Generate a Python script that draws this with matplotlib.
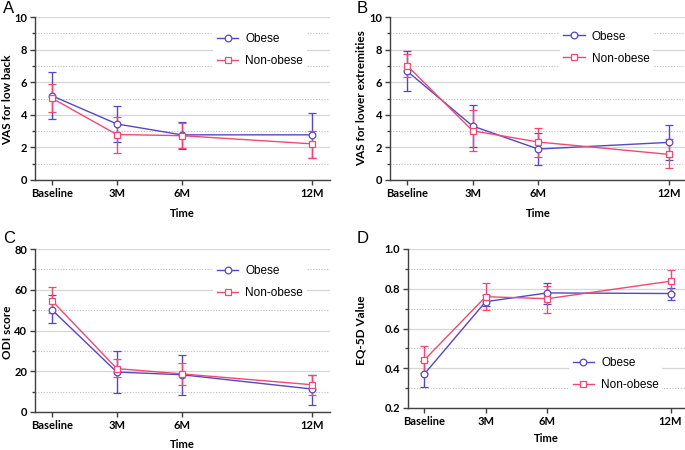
import matplotlib
matplotlib.use("Agg")
import matplotlib.pyplot as plt
from matplotlib.ticker import MultipleLocator, FormatStrFormatter
from matplotlib.lines import Line2D

# ---- data ----
time_labels = ["Baseline", "3M", "6M", "12M"]
months = [0, 3, 6, 12]

# Panel A: VAS for low back
a_obese = [5.17, 3.44, 2.77, 2.77]
a_obese_lo = [3.73, 2.35, 1.90, 1.37]
a_obese_hi = [6.60, 4.55, 3.58, 4.13]
a_non = [5.02, 2.79, 2.72, 2.22]
a_non_lo = [4.18, 1.68, 1.95, 1.38]
a_non_hi = [5.88, 3.88, 3.48, 3.03]

# Panel B: VAS for lower extremities
b_obese = [6.68, 3.31, 1.90, 2.31]
b_obese_lo = [5.47, 2.04, 0.92, 1.22]
b_obese_hi = [7.90, 4.61, 2.86, 3.35]
b_non = [7.02, 3.02, 2.33, 1.57]
b_non_lo = [6.33, 1.80, 1.43, 0.71]
b_non_hi = [7.71, 4.29, 3.20, 2.49]

# Panel C: ODI score
c_obese = [50.2, 19.6, 18.3, 11.3]
c_obese_lo = [43.7, 9.3, 8.2, 3.6]
c_obese_hi = [57.3, 29.8, 28.1, 18.3]
c_non = [54.7, 21.3, 18.7, 13.4]
c_non_lo = [48.6, 17.2, 13.3, 8.2]
c_non_hi = [61.4, 26.2, 24.1, 18.3]

# Panel D: EQ-5D value
d_obese = [0.369, 0.735, 0.779, 0.776]
d_obese_lo = [0.304, 0.715, 0.725, 0.745]
d_obese_hi = [0.435, 0.767, 0.829, 0.804]
d_non = [0.440, 0.760, 0.750, 0.838]
d_non_lo = [0.375, 0.692, 0.678, 0.779]
d_non_hi = [0.510, 0.829, 0.816, 0.894]

OBESE_C = "#5548c0"
NON_C = "#ee4a74"
tick_font = "Lato"

fig = plt.figure(figsize=(6.85, 4.5), dpi=100)
W, H = 685, 450

def add_ax(l, t, r, b):
    return fig.add_axes([l / W, 1 - b / H, (r - l) / W, (b - t) / H])

def panel(ax, ylabel, ylim, major, minor, fmt, ob, ob_lo, ob_hi, no, no_lo, no_hi,
          leg_anchor, ylab_xy, xlab_xy):
    ax.set_xlim(-0.78, 12.85)
    ax.set_ylim(*ylim)
    ax.yaxis.set_major_locator(MultipleLocator(major))
    ax.yaxis.set_minor_locator(MultipleLocator(minor))
    ax.grid(True, which="major", axis="y", color="#d6d6d6", lw=0.9, zorder=0)
    ax.grid(True, which="minor", axis="y", color="#bdbdbd", lw=0.8, ls=(0, (1, 1.5)), zorder=0)
    ax.set_axisbelow(True)
    for s in ["top", "right"]:
        ax.spines[s].set_visible(False)
    for s in ["left", "bottom"]:
        ax.spines[s].set_color("#404040")
        ax.spines[s].set_linewidth(1.0)
    series = [
        (ob, ob_lo, ob_hi, OBESE_C, "o", "Obese"),
        (no, no_lo, no_hi, NON_C, "s", "Non-obese"),
    ]
    handles = []
    for vals, lo, hi, c, m, lab in series:
        yerr = [[v - l for v, l in zip(vals, lo)], [h - v for v, h in zip(vals, hi)]]
        ax.errorbar(months, vals, yerr=yerr, color=c, lw=1.0, elinewidth=1.0,
                    capsize=3, capthick=1.0, marker=m, ms=4.8, mfc="white",
                    mec=c, mew=0.9, zorder=3)
        handles.append(Line2D([], [], color=c, lw=1.0, marker=m, ms=4.8,
                              mfc="white", mec=c, mew=0.9, label=lab))
    ax.set_xticks(months)
    ax.set_xticklabels(time_labels)
    ax.tick_params(axis="both", which="major", labelsize=8, length=3.5, width=1.0, color="#404040", pad=2)
    ax.tick_params(axis="y", which="minor", length=2, width=1.0, color="#404040")
    for lab in ax.get_xticklabels() + ax.get_yticklabels():
        lab.set_fontfamily(tick_font)
        lab.set_fontweight("bold")
    ax.yaxis.set_major_formatter(fmt)
    ax.set_xlabel("Time", fontsize=8, fontweight="bold", fontfamily=tick_font)
    ax.set_ylabel(ylabel, fontsize=8.5, fontweight="bold", fontfamily=tick_font)
    ax.yaxis.set_label_coords(ylab_xy[0] / W, 1 - ylab_xy[1] / H, transform=fig.transFigure)
    ax.xaxis.set_label_coords(xlab_xy[0] / W, 1 - xlab_xy[1] / H, transform=fig.transFigure)
    ax.yaxis.label.set_va("center")
    ax.xaxis.label.set_va("center")
    leg = ax.legend(handles=handles, loc="upper left", bbox_to_anchor=leg_anchor,
                    frameon=True, handlelength=1.8, labelspacing=0.85, borderpad=0.3,
                    handletextpad=0.6, prop={"family": "Liberation Sans", "size": 8.5})
    leg.get_frame().set_edgecolor("none")
    leg.get_frame().set_facecolor("white")
    leg.get_frame().set_alpha(1.0)
    return ax

axA = add_ax(35, 17, 330, 180)
panel(axA, "VAS for low back", (0, 10), 2, 1, FormatStrFormatter("%d"),
      a_obese, a_obese_lo, a_obese_hi, a_non, a_non_lo, a_non_hi, (0.585, 0.96),
      (8, 100), (182, 213))

axB = add_ax(390, 17, 688, 180)
panel(axB, "VAS for lower extremities", (0, 10), 2, 1, FormatStrFormatter("%d"),
      b_obese, b_obese_lo, b_obese_hi, b_non, b_non_lo, b_non_hi, (0.55, 0.975),
      (362, 98), (538, 213))

axC = add_ax(35, 249, 330, 412)
panel(axC, "ODI score", (0, 80), 20, 10, FormatStrFormatter("%d"),
      c_obese, c_obese_lo, c_obese_hi, c_non, c_non_lo, c_non_hi, (0.585, 0.96),
      (8, 332), (182, 445))

axD = add_ax(408, 249, 688, 408)
panel(axD, "EQ-5D Value", (0.2, 1.0), 0.2, 0.1, FormatStrFormatter("%.1f"),
      d_obese, d_obese_lo, d_obese_hi, d_non, d_non_lo, d_non_hi, (0.555, 0.38),
      (361, 330), (546, 438))

for letter, x, y in [("A", 3, 13), ("B", 357, 13), ("C", 3, 243), ("D", 357, 243)]:
    fig.text(x / W, 1 - y / H, letter, fontsize=12, fontfamily="Liberation Sans", va="baseline")

fig.savefig("out.png", dpi=100)
